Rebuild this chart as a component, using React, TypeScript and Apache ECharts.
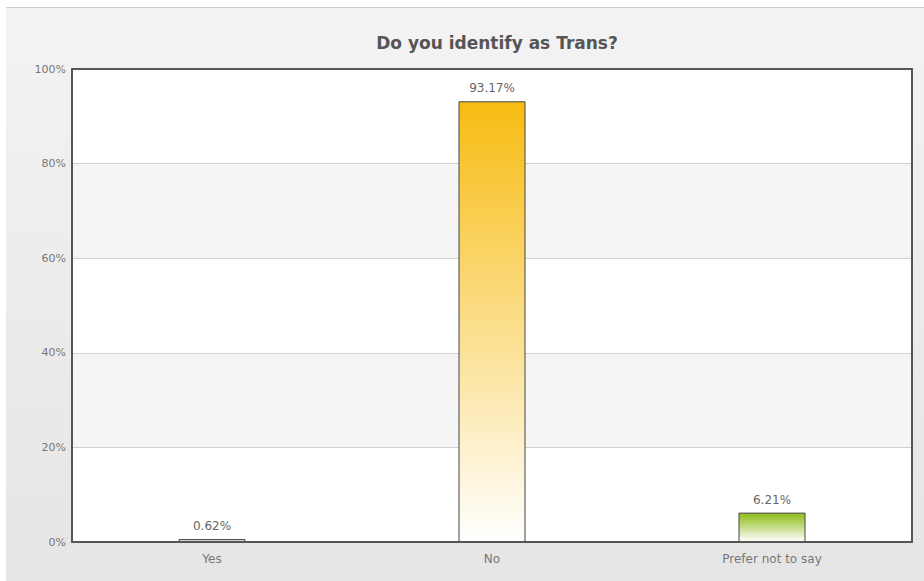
import React, { useEffect, useRef } from "react";
import * as echarts from "echarts";

const categories = ["Yes", "No", "Prefer not to say"];
const values = [0.62, 93.17, 6.21];
const topColors = ["#c9d7e4", "#f7bc12", "#8dbb14"];
const yTicks = [0, 20, 40, 60, 80, 100];

export default function App() {
  const ref = useRef<HTMLDivElement>(null);
  useEffect(() => {
    const chart = echarts.init(ref.current!, null, { renderer: "svg" });
    const font = "'DejaVu Sans', Verdana, sans-serif";
    const frameLine = { show: true, onZero: false, lineStyle: { color: "#555", width: 2 } };
    chart.setOption({
      animation: false,
      title: {
        text: "Do you identify as Trans?",
        left: 486,
        textAlign: "center",
        top: 21,
        textStyle: { fontFamily: font, fontSize: 17, fontWeight: "bold", color: "#555" },
      },
      grid: {
        left: 66,
        right: 12,
        top: 61,
        bottom: 39,
        show: true,
        borderWidth: 0,
        backgroundColor: "#fff",
        containLabel: false,
      },
      xAxis: [
        {
          type: "category",
          data: categories,
          position: "bottom",
          axisLine: frameLine,
          axisTick: { show: false },
          axisLabel: { fontFamily: font, fontSize: 12, color: "#777", margin: 11 },
          splitLine: { show: false },
          splitArea: { show: false },
          z: 5,
        },
        {
          type: "category",
          data: categories,
          position: "top",
          axisLine: frameLine,
          axisTick: { show: false },
          axisLabel: { show: false },
          splitLine: { show: false },
          splitArea: { show: false },
          z: 5,
        },
      ],
      yAxis: [
        {
          type: "value",
          min: yTicks[0],
          max: yTicks[yTicks.length - 1],
          interval: 20,
          position: "left",
          axisLine: { show: false },
          axisTick: { show: false },
          axisLabel: { fontFamily: font, fontSize: 11, color: "#777", formatter: "{value}%", margin: 6 },
          splitLine: { show: true, lineStyle: { color: "#d0d0d0", width: 1 } },
          splitArea: { show: true, areaStyle: { color: ["#ffffff", "#f5f5f5"] } },
        },
        {
          type: "value",
          min: yTicks[0],
          max: yTicks[yTicks.length - 1],
          interval: 20,
          position: "left",
          axisLine: frameLine,
          axisTick: { show: false },
          axisLabel: { show: false },
          splitLine: { show: false },
          splitArea: { show: false },
          z: 5,
        },
        {
          type: "value",
          min: yTicks[0],
          max: yTicks[yTicks.length - 1],
          interval: 20,
          position: "right",
          axisLine: frameLine,
          axisTick: { show: false },
          axisLabel: { show: false },
          splitLine: { show: false },
          splitArea: { show: false },
          z: 5,
        },
      ],
      series: [
        {
          type: "bar",
          barWidth: 67,
          xAxisIndex: 0,
          yAxisIndex: 0,
          z: 3,
          data: values.map((v, i) => ({
            value: v,
            itemStyle: {
              color: new echarts.graphic.LinearGradient(0, 0, 0, 1, [
                { offset: 0, color: topColors[i] },
                { offset: 1, color: i === 0 ? "#e6edf3" : "#ffffff" },
              ]),
              borderColor: "#444",
              borderWidth: 1,
            },
          })),
          label: {
            show: true,
            position: "top",
            distance: 7,
            fontFamily: font,
            fontSize: 12,
            color: "#666",
            formatter: (p: any) => p.value.toFixed(2) + "%",
          },
        },
      ],
    });
    return () => chart.dispose();
  }, []);
  return (
    <div style={{ position: "absolute", left: 0, top: 0, width: 924, height: 581, background: "#fff" }}>
      <div
        style={{
          position: "absolute",
          left: 6,
          top: 7,
          width: 918,
          height: 574,
          borderTop: "1px solid #cfcfcf",
          background: "linear-gradient(#f3f3f3, #e5e5e5)",
          boxSizing: "border-box",
        }}
      >
        <div ref={ref} style={{ width: 918, height: 573 }} />
      </div>
    </div>
  );
}
